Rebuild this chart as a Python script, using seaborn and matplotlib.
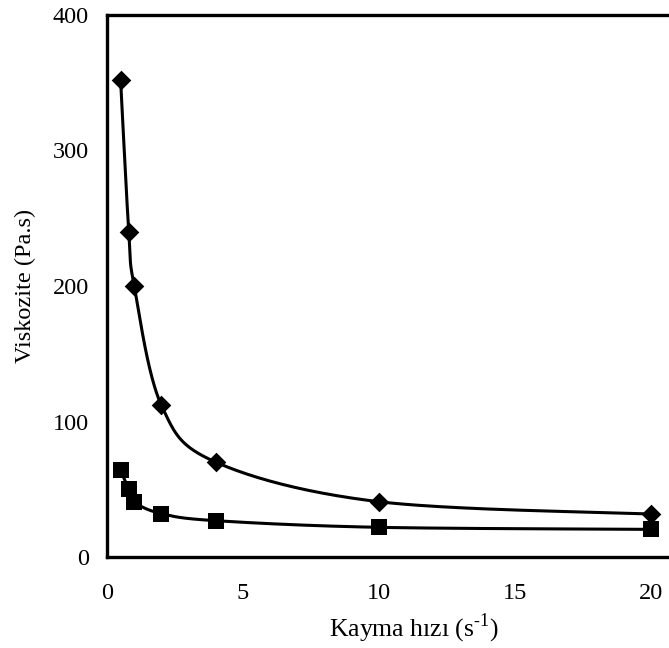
import numpy as np
import pandas as pd
import matplotlib
matplotlib.use("Agg")
import matplotlib.pyplot as plt
import seaborn as sns

# Shear rate (1/s) and measured viscosity (Pa.s) for the two samples
shear_rate = [0.5, 0.8, 1, 2, 4, 10, 20]
viscosity_a = [352, 240, 200, 112, 70, 40.8, 31.7]
viscosity_b = [64, 50, 40.6, 32, 26.8, 21.9, 20.4]

x_ticks = [0, 5, 10, 15, 20]
y_ticks = [0, 100, 200, 300, 400]

sns.set_theme(style="white")
plt.rcParams["font.family"] = ["Liberation Serif", "DejaVu Serif"]
plt.rcParams["mathtext.fontset"] = "custom"
plt.rcParams["mathtext.rm"] = "Liberation Serif"

W, H = 669, 648
fig = plt.figure(figsize=(W / 100, H / 100), dpi=100)
ax = fig.add_axes([107 / W, (H - 557) / H, 1 - 107 / W, (557 - 15) / H])
ax.set_xlim(0, 20.66)
ax.set_ylim(0, 400)


def smooth_curve(ax, xs, ys, n=40):
    """Bezier smoothing through the points, computed in screen space."""
    pts = ax.transData.transform(np.column_stack([xs, ys]))
    out = []
    m = len(pts)
    for i in range(m - 1):
        p0 = pts[i - 1] if i > 0 else pts[i]
        p1 = pts[i]
        p2 = pts[i + 1]
        p3 = pts[i + 2] if i + 2 < m else pts[i + 1]
        c1 = p1 + (p2 - p0) / 6.0
        c2 = p2 - (p3 - p1) / 6.0
        t = np.linspace(0, 1, n)[:, None]
        seg = ((1 - t) ** 3) * p1 + 3 * ((1 - t) ** 2) * t * c1 + 3 * (1 - t) * t ** 2 * c2 + t ** 3 * p2
        out.append(seg if i == 0 else seg[1:])
    out = np.vstack(out)
    data = ax.transData.inverted().transform(out)
    return data[:, 0], data[:, 1]


for vals, mk, ms in [(viscosity_a, "D", 10), (viscosity_b, "s", 11)]:
    cx, cy = smooth_curve(ax, shear_rate, vals)
    curve = pd.DataFrame({"x": cx, "y": cy})
    sns.lineplot(data=curve, x="x", y="y", sort=False, estimator=None,
                 color="black", linewidth=2.2, ax=ax)
    pts = pd.DataFrame({"x": shear_rate, "y": vals})
    sns.scatterplot(data=pts, x="x", y="y", marker=mk, s=ms ** 2,
                    color="black", edgecolor="black", linewidth=0, ax=ax,
                    zorder=5, clip_on=False)

ax.set_xticks(x_ticks)
ax.set_yticks(y_ticks)
ax.set_xticklabels([str(t) for t in x_ticks])
ax.set_yticklabels([str(t) for t in y_ticks])
ax.tick_params(axis="both", direction="out", color="#808080", width=1.2,
               labelsize=17.5, labelcolor="black")
ax.tick_params(axis="y", length=5, pad=8)
ax.tick_params(axis="x", length=5, pad=14)

for side in ["left", "top", "bottom"]:
    ax.spines[side].set_color("black")
    ax.spines[side].set_linewidth(2.4)
ax.spines["right"].set_visible(False)

ax.set_xlabel("Kayma hızı (s$^{\\mathregular{\u2010}1}$)", fontsize=18.5,
              color="black")
ax.xaxis.set_label_coords((414 - 107) / (W - 107), -(612 - 557) / (557 - 15))
ax.xaxis.label.set_va("top")
ax.set_ylabel("Viskozite (Pa.s)", fontsize=17.5, color="black", labelpad=12)

fig.savefig("out.png", dpi=100)
